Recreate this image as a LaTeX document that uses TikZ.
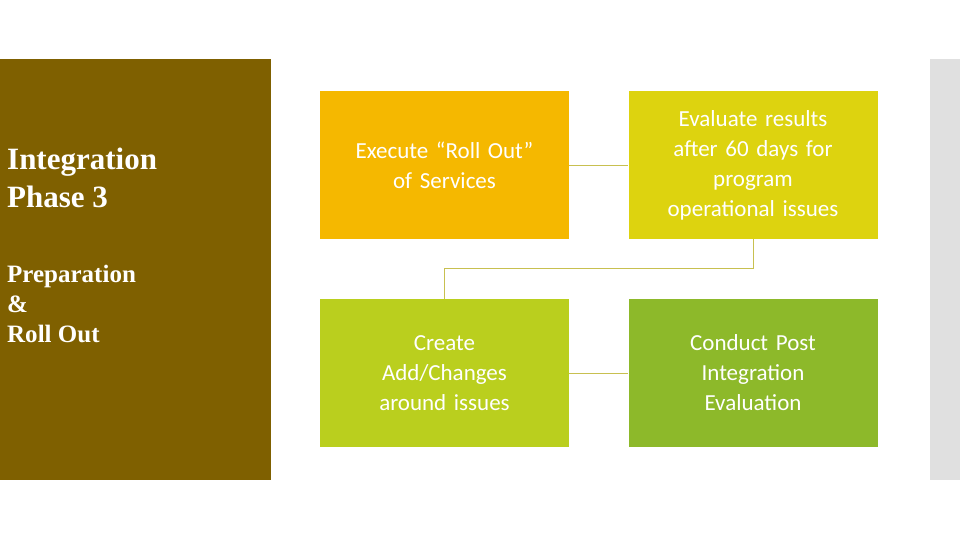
\documentclass[tikz,border=0pt]{standalone}
\usepackage{fontspec}
\setmainfont{Carlito}
\newfontfamily\serifb{Liberation Serif}
\definecolor{brownp}{HTML}{7F6000}
\definecolor{grayb}{HTML}{E0E0E0}
\definecolor{cA}{HTML}{F5B800}
\definecolor{cB}{HTML}{DDD30F}
\definecolor{cC}{HTML}{BACF1E}
\definecolor{cD}{HTML}{8DB92A}
\definecolor{lnc}{HTML}{C8C050}
\begin{document}
\begin{tikzpicture}[x=1pt,y=-1pt,
  box/.style={minimum width=249pt,minimum height=148pt,text width=230pt,align=center,text=white,font=\fontsize{23}{30}\selectfont,inner sep=0pt},
  link/.style={draw=lnc,line width=0.8pt}]
\useasboundingbox (0,0) rectangle (960,540);
\fill[brownp] (0,59) rectangle (271,480);
\fill[grayb] (930,59) rectangle (960,480);
\node[anchor=north west,align=left,text=white,font=\serifb\bfseries\fontsize{31}{38}\selectfont,inner sep=0pt] (t1) at (7,148) {Integration\\Phase 3};
\node[anchor=north west,align=left,text=white,font=\serifb\bfseries\fontsize{25}{30}\selectfont,inner sep=0pt] (t2) at (7,265) {Preparation\\\&\\Roll Out};
\node[box,fill=cA] (a) at (444.5,165) {Execute “Roll Out”\\of Services};
\node[box,fill=cB] (b) at (753,165) {Evaluate results\\after 60 days for\\program\\operational issues};
\node[box,fill=cC] (c) at (444.5,373) {Create\\Add/Changes\\around issues};
\node[box,fill=cD] (d) at (753,373) {Conduct Post\\Integration\\Evaluation};
\draw[link] (a.east) -- (b.west);
\draw[link] (c.east) -- (d.west);
\draw[link] (b.south) -- ++(0,29) -| (c.north);
\end{tikzpicture}
\end{document}
